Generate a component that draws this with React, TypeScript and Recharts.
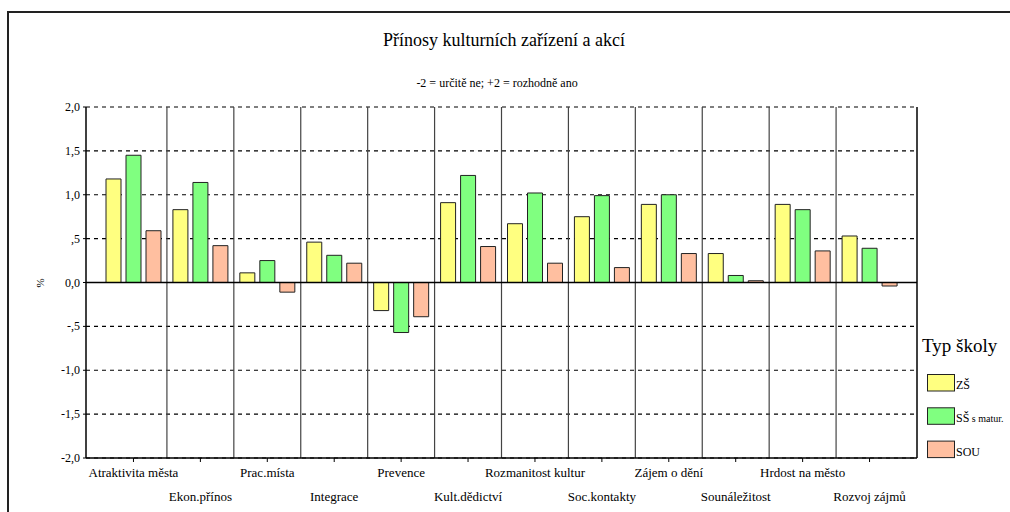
import React from 'react';
import { BarChart, Bar, XAxis, YAxis, CartesianGrid, ReferenceLine } from 'recharts';

const categories = [
  'Atraktivita města', 'Ekon.přínos', 'Prac.místa', 'Integrace', 'Prevence', 'Kult.dědictví',
  'Rozmanitost kultur', 'Soc.kontakty', 'Zájem o dění', 'Sounáležitost', 'Hrdost na město', 'Rozvoj zájmů',
];
const zs = [1.18, 0.83, 0.11, 0.46, -0.32, 0.91, 0.67, 0.75, 0.89, 0.33, 0.89, 0.53];
const ssMatur = [1.45, 1.14, 0.25, 0.31, -0.57, 1.22, 1.02, 0.99, 1.0, 0.08, 0.83, 0.39];
const sou = [0.59, 0.42, -0.11, 0.22, -0.39, 0.41, 0.22, 0.17, 0.33, 0.02, 0.36, -0.04];

const yTicks = [-2, -1.5, -1, -0.5, 0, 0.5, 1, 1.5, 2];
const yTickLabels = ['-2,0', '-1,5', '-1,0', '-,5', '0,0', ',5', '1,0', '1,5', '2,0'];

const title = 'Přínosy kulturních zařízení a akcí';
const subtitle = '-2 = určitě ne; +2 = rozhodně ano';
const yLabel = '%';
const legendTitle = 'Typ školy';
const series = [
  { key: 'zs', name: 'ZŠ', small: '', color: '#FFFF80' },
  { key: 'ss', name: 'SŠ', small: ' s matur.', color: '#80FF80' },
  { key: 'sou', name: 'SOU', small: '', color: '#FFBFA0' },
];

const data = categories.map((c, i) => ({ name: c, zs: zs[i], ss: ssMatur[i], sou: sou[i] }));

const FONT = 'Liberation Serif, DejaVu Serif, serif';
const PAD = 14;

const XTick = (props: any) => {
  const { x, y, payload } = props;
  const i = payload?.index ?? props.index ?? 0;
  return (
    <text x={x} y={y + (i % 2 === 0 ? 13 : 37)} textAnchor="middle" style={{ fontFamily: FONT }} fontSize={13} fill="#000">
      {payload.value}
    </text>
  );
};

const YTick = (props: any) => {
  const { x, y, payload } = props;
  const idx = yTicks.indexOf(payload.value);
  return (
    <text x={x} y={y + 4} textAnchor="end" style={{ fontFamily: FONT }} fontSize={12} fill="#000">
      {idx >= 0 ? yTickLabels[idx] : payload.value}
    </text>
  );
};

// category boundaries from the x axis' own band scale (fallback: from plot offset)
const dividerGenerator = (args: any) => {
  const { xAxis, offset } = args || {};
  const scale = xAxis?.scale;
  if (scale && typeof scale === 'function' && typeof scale.bandwidth === 'function') {
    return categories.slice(1).map((c) => scale(c));
  }
  const left = offset.left + PAD;
  const band = (offset.width - 2 * PAD) / categories.length;
  return categories.slice(1).map((_, i) => left + (i + 1) * band);
};

export default function App() {
  return (
    <div style={{ position: 'absolute', left: 0, top: 0, width: 1010, height: 512, background: '#fff', overflow: 'hidden', fontFamily: FONT }}>
      <div
        style={{
          position: 'absolute', left: 7, top: 11, width: 1100, height: 600,
          borderLeft: '2px solid #222', borderTop: '2px solid #222',
        }}
      />
      <div style={{ position: 'absolute', left: 0, top: 0 }}>
        <BarChart
          width={1010}
          height={512}
          data={data}
          margin={{ top: 107, left: 36, right: 92, bottom: 0 }}
          barSize={15}
          barGap={5}
        >
          <CartesianGrid horizontal vertical={false} stroke="#000" strokeDasharray="4 4" strokeWidth={1.2} />
          <CartesianGrid horizontal={false} vertical verticalCoordinatesGenerator={dividerGenerator} stroke="#444" strokeWidth={1.2} />
          <XAxis
            dataKey="name"
            interval={0}
            padding={{ left: PAD, right: PAD }}
            height={54}
            tick={<XTick />}
            tickSize={4}
            axisLine={{ stroke: '#000', strokeWidth: 1.5 }}
            tickLine={{ stroke: '#000' }}
          />
          <YAxis
            domain={[-2, 2]}
            ticks={yTicks}
            width={50}
            tick={<YTick />}
            tickSize={3}
            tickMargin={3}
            axisLine={{ stroke: '#000', strokeWidth: 1.5 }}
            tickLine={{ stroke: '#000' }}
            allowDataOverflow
          />
          <YAxis
            yAxisId="right"
            orientation="right"
            domain={[-2, 2]}
            width={1}
            tick={false}
            tickLine={false}
            axisLine={{ stroke: '#000', strokeWidth: 1.5 }}
          />
          {series.map((s) => (
            <Bar key={s.key} dataKey={s.key} name={s.name} fill={s.color} stroke="#222" strokeWidth={1} isAnimationActive={false} />
          ))}
          <ReferenceLine y={0} stroke="#000" strokeWidth={1.5} />
        </BarChart>
      </div>
      <svg width={1010} height={512} style={{ position: 'absolute', left: 0, top: 0, pointerEvents: 'none', fontFamily: FONT }}>
        <text x={504} y={46} textAnchor="middle" fontSize={18} fill="#000">{title}</text>
        <text x={497} y={87} textAnchor="middle" fontSize={12} fill="#000">{subtitle}</text>
        <text x={44} y={283} textAnchor="middle" fontSize={11} fill="#000" transform="rotate(-90 44 283)">{yLabel}</text>
        <text x={922} y={352} fontSize={19} fill="#000">{legendTitle}</text>
        {series.map((s, i) => (
          <g key={s.key}>
            <rect x={927.5} y={374.5 + i * 33.3} width={27} height={16.5} fill={s.color} stroke="#222" strokeWidth={1} />
            <text x={956} y={389 + i * 33.3} fontSize={12} fill="#000">
              {s.name}
              {s.small ? <tspan fontSize={10}>{s.small}</tspan> : null}
            </text>
          </g>
        ))}
      </svg>
    </div>
  );
}
